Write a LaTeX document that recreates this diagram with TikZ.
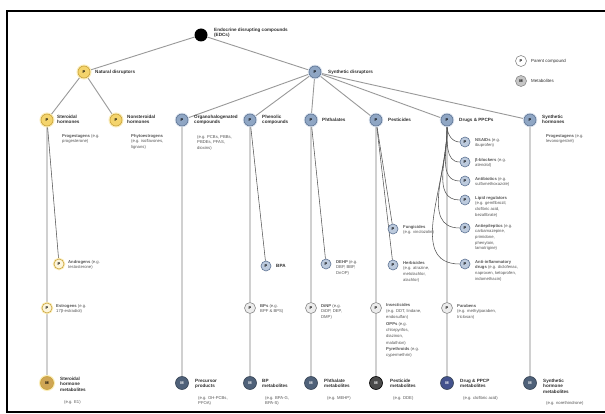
\documentclass[tikz,border=0pt]{standalone}
\usepackage{fontspec}
\setmainfont{Liberation Sans}
\usetikzlibrary{backgrounds}

\definecolor{natfill}{HTML}{F4D46C}
\definecolor{natdraw}{HTML}{C9A23A}
\definecolor{natglow}{HTML}{FBEDB8}
\definecolor{natlight}{HTML}{FDF6DC}
\definecolor{natmet}{HTML}{CFA655}
\definecolor{synfill}{HTML}{8FA6C4}
\definecolor{syndraw}{HTML}{5E7494}
\definecolor{synglow}{HTML}{DCE4EF}
\definecolor{synlight}{HTML}{BCCADD}
\definecolor{synmet}{HTML}{4F6179}
\definecolor{pestmet}{HTML}{4A4A4A}
\definecolor{midfill}{HTML}{ECECEC}
\definecolor{middraw}{HTML}{8A8A8A}
\definecolor{spinecol}{HTML}{D0D0D0}
\definecolor{branchcol}{HTML}{555555}
\definecolor{labcol}{HTML}{2E2E2E}
\definecolor{subcol}{HTML}{555555}

\tikzset{
  dot/.style={circle, inner sep=0pt, line width=0.6pt,
    font=\fontsize{4}{4}\selectfont\bfseries},
  rootdot/.style={dot, minimum size=13pt, fill=black},
  natP/.style={dot, minimum size=12pt, fill=natfill, draw=natdraw,
    preaction={draw=natglow, line width=3pt}},
  natC/.style={dot, minimum size=10pt, fill=natlight, draw=natdraw,
    preaction={draw=natglow, line width=2.5pt}},
  natM/.style={dot, minimum size=13pt, fill=natmet, draw=natdraw,
    preaction={draw=natglow, line width=3pt}},
  synP/.style={dot, minimum size=12pt, fill=synfill, draw=syndraw,
    preaction={draw=synglow, line width=2.5pt}},
  synC/.style={dot, minimum size=10pt, fill=synlight, draw=syndraw},
  midP/.style={dot, minimum size=11pt, fill=midfill, draw=middraw},
  synM/.style={dot, minimum size=13pt, fill=synmet, draw=synmet!70!black, text=white},
  pestM/.style={dot, minimum size=13pt, fill=pestmet, draw=black, text=white},
  lab/.style={font=\fontsize{4.6}{5.4}\selectfont\bfseries, text=labcol,
    align=left, inner sep=0pt, anchor=north west},
  labw/.style={lab, anchor=west},
  sub/.style={font=\fontsize{4.2}{5.6}\selectfont, text=subcol,
    align=left, inner sep=0pt, anchor=north west},
  spine/.style={draw=spinecol, line width=1.8pt},
  branch/.style={draw=branchcol, line width=0.55pt},
  trunk/.style={draw=gray!80, line width=0.9pt},
}

\begin{document}
\begin{tikzpicture}[x=1pt, y=-1pt]
\useasboundingbox (0,0) rectangle (605,414);

% ---------- top levels ----------
\node[rootdot] (r) at (201,35) {};
\node[lab] (rl) at (214,28) {Endocrine disrupting compounds\\(EDCs)};

\node[natP] (nat) at (84,72) {P};
\node[labw] (natl) at (95,72) {Natural disruptors};
\node[synP] (syn) at (315,72) {P};
\node[labw] (synl) at (328,72) {Synthetic disruptors};

% legend
\node[dot, minimum size=11pt, fill=white, draw=middraw] (lgP) at (521,61) {P};
\node[labw, font=\fontsize{4.4}{5}\selectfont] (lgPl) at (531,61) {Parent compound};
\node[dot, minimum size=11pt, fill=gray!45, draw=middraw] (lgM) at (521,81) {M};
\node[labw, font=\fontsize{4.4}{5}\selectfont] (lgMl) at (531,81) {Metabolites};

% ---------- natural branch ----------
\node[natP] (a1) at (47,120) {P};
\node[lab] (a1l) at (57,115) {Steroidal\\hormones};
\node[sub] (a1s) at (62,134) {\textbf{Progestagens} (e.g.\\progesterone)};
\node[natC] (a1c) at (59,264) {P};
\node[sub] (a1cl) at (68,260) {\textbf{Androgens} (e.g.\\testosterone)};
\node[natC] (a1e) at (47,308) {P};
\node[sub] (a1el) at (56,304) {\textbf{Estrogens} (e.g.\\17β-estradiol)};
\node[natM] (a1m) at (47,383) {M};
\node[lab] (a1ml) at (60,377) {Steroidal\\hormone\\metabolites};
\node[sub] (a1ms) at (64,400) {(e.g. E1)};

\node[natP] (a2) at (116,120) {P};
\node[lab] (a2l) at (127,115) {Nonsteroidal\\hormones};
\node[sub] (a2s) at (131,134) {\textbf{Phytoestrogens}\\(e.g. isoflavones,\\lignans)};

% ---------- synthetic branch ----------
\node[synP] (b1) at (182,120) {P};
\node[lab] (b1l) at (194,115) {Organohalogenated\\compounds};
\node[sub] (b1s) at (197,135) {(e.g. PCBs, PBBs,\\PBDEs, PFAS,\\dioxins)};
\node[synM] (b1m) at (182,383) {M};
\node[lab] (b1ml) at (195,379) {Precursor\\products};
\node[sub] (b1ms) at (198,396) {(e.g. OH-PCBs,\\PFOA)};

\node[synP] (b2) at (250,120) {P};
\node[lab] (b2l) at (262,115) {Phenolic\\compounds};
\node[synC] (b2c) at (266,266) {P};
\node[labw] (b2cl) at (276,266) {BPA};
\node[midP] (b2e) at (250,308) {P};
\node[sub] (b2el) at (260,304) {\textbf{BPs} (e.g.\\BPF \& BPS)};
\node[synM] (b2m) at (250,383) {M};
\node[lab] (b2ml) at (262,379) {BP\\metabolites};
\node[sub] (b2ms) at (265,396) {(e.g. BPA-G,\\BPA-S)};

\node[synP] (b3) at (311,120) {P};
\node[labw] (b3l) at (322,120) {Phthalates};
\node[synC] (b3c) at (326,264) {P};
\node[sub] (b3cl) at (336,260) {\textbf{DEHP} (e.g.\\DBP, BBP,\\DnOP)};
\node[midP] (b3e) at (311,308) {P};
\node[sub] (b3el) at (321,304) {\textbf{DiNP} (e.g.\\DiDP, DEP,\\DMP)};
\node[synM] (b3m) at (311,383) {M};
\node[lab] (b3ml) at (324,379) {Phthalate\\metabolites};
\node[sub] (b3ms) at (327,396) {(e.g. MEHP)};

\node[synP] (b4) at (376,120) {P};
\node[labw] (b4l) at (388,120) {Pesticides};
\node[synC] (b4c1) at (393,229) {P};
\node[sub] (b4c1l) at (403,225) {\textbf{Fungicides}\\(e.g. vinclozolin)};
\node[synC] (b4c2) at (393,265) {P};
\node[sub] (b4c2l) at (403,261) {\textbf{Herbicides}\\(e.g. atrazine,\\metolachlor,\\alachlor)};
\node[midP] (b4e) at (376,308) {P};
\node[sub, font=\fontsize{4.2}{6.3}\selectfont] (b4el) at (386,303)
  {\textbf{Insecticides}\\(e.g. DDT, lindane,\\endosulfan)\\\textbf{OPPs} (e.g.\\chlorpyrifos,\\diazinon,\\malathion)\\\textbf{Pyrethroids} (e.g.\\cypermethrin)};
\node[pestM] (b4m) at (376,383) {M};
\node[lab] (b4ml) at (390,379) {Pesticide\\metabolites};
\node[sub] (b4ms) at (393,396) {(e.g. DDE)};

\node[synP] (b5) at (447,120) {P};
\node[labw] (b5l) at (459,120) {Drugs \& PPCPs};
\node[synC] (b5c1) at (465,142) {P};
\node[sub] (b5c1l) at (475,138) {\textbf{NSAIDs} (e.g.\\ibuprofen)};
\node[synC] (b5c2) at (465,162) {P};
\node[sub] (b5c2l) at (475,158) {\textbf{β-blockers} (e.g.\\atenolol)};
\node[synC] (b5c3) at (465,181) {P};
\node[sub] (b5c3l) at (475,177) {\textbf{Antibiotics} (e.g.\\sulfamethoxazole)};
\node[synC] (b5c4) at (465,200) {P};
\node[sub] (b5c4l) at (475,196) {\textbf{Lipid regulators}\\(e.g. gemfibrozil,\\clofibric acid,\\bezafibrate)};
\node[synC] (b5c5) at (465,228) {P};
\node[sub] (b5c5l) at (475,224) {\textbf{Antiepileptics} (e.g.\\carbamazepine,\\primidone,\\phenytoin,\\lamotrigine)};
\node[synC] (b5c6) at (465,264) {P};
\node[sub] (b5c6l) at (475,260) {\textbf{Anti-inflammatory}\\\textbf{drugs} (e.g. diclofenac,\\naproxen, ketoprofen,\\indomethacin)};
\node[midP] (b5e) at (447,308) {P};
\node[sub] (b5el) at (457,304) {\textbf{Parabens}\\(e.g. methylparaben,\\triclosan)};
\node[synM, fill=synmet!85!blue] (b5m) at (447,383) {M};
\node[lab] (b5ml) at (460,379) {Drug \& PPCP\\metabolites};
\node[sub] (b5ms) at (463,396) {(e.g. clofibric acid)};

\node[synP] (b6) at (530,120) {P};
\node[lab] (b6l) at (542,115) {Synthetic\\hormones};
\node[sub] (b6s) at (546,134) {\textbf{Progestagens} (e.g.\\levonorgestrel)};
\node[synM] (b6m) at (530,383) {M};
\node[lab] (b6ml) at (543,379) {Synthetic\\hormone\\metabolites};
\node[sub] (b6ms) at (546,401) {(e.g. norethindrone)};

% ---------- connectors and frame, behind the nodes ----------
\begin{scope}[on background layer]
  \fill[white] (0,0) rectangle (605,414);
  \draw[line width=1.4pt] (606,11) -- (7,11) -- (7,412) -- (606,412);

  \draw[trunk] (r) -- (nat);
  \draw[trunk] (r) -- (syn);
  \draw[trunk] (nat) -- (a1);
  \draw[trunk] (nat) -- (a2);
  \foreach \t in {b1,b2,b3,b4,b5,b6} \draw[trunk] (syn) -- (\t);

  % vertical chains from parent to metabolite
  \draw[spine] (a1) -- (a1e);  \draw[spine] (a1e) -- (a1m);
  \draw[spine] (b1) -- (b1m);
  \draw[spine] (b2) -- (b2e);  \draw[spine] (b2e) -- (b2m);
  \draw[spine] (b3) -- (b3e);  \draw[spine] (b3e) -- (b3m);
  \draw[spine] (b4) -- (b4e);  \draw[spine] (b4e) -- (b4m);
  \draw[spine] (b5) -- (b5e);  \draw[spine] (b5e) -- (b5m);
  \draw[spine] (b6) -- (b6m);

  % side branches
  \draw[branch] (a1) -- (a1c);
  \draw[branch] (b2) -- (b2c);
  \draw[branch] (b3) -- (b3c);
  \draw[branch] (b4) -- (b4c1);
  \draw[branch] (b4) -- (b4c2);
  \foreach \c in {b5c1,b5c2,b5c3,b5c4,b5c5,b5c6}
    \draw[branch] (b5.south) to[out=-88, in=180] (\c.west);
\end{scope}
\end{tikzpicture}
\end{document}
